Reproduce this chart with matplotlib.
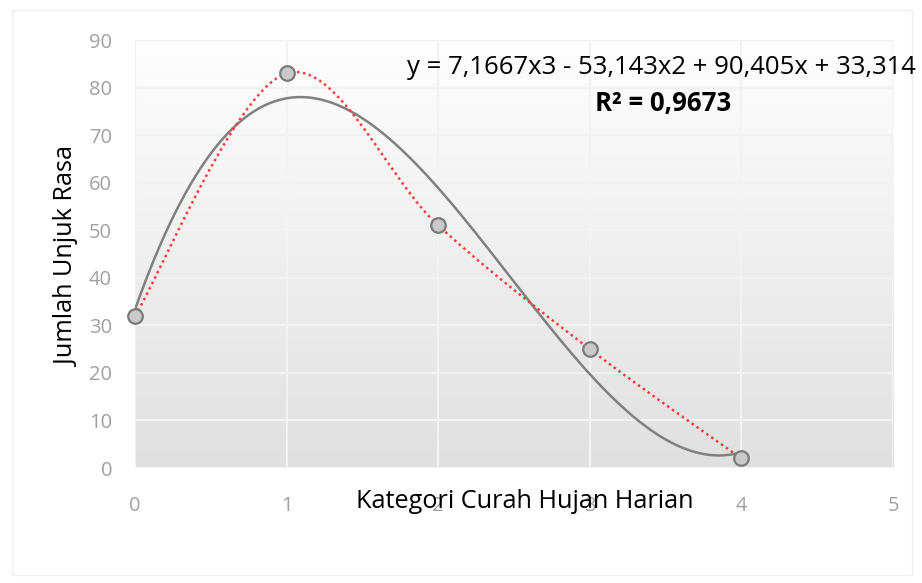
import matplotlib
matplotlib.use("Agg")
import matplotlib.pyplot as plt
import numpy as np
from matplotlib.patches import Rectangle

# observed counts per rainfall category
kategori = [0, 1, 2, 3, 4]
unjuk_rasa = [32, 83, 51, 25, 2]

# cubic trendline coefficients (highest power first) and fit quality
poly_coef = [7.1667, -53.143, 90.405, 33.314]
r_squared = "0,9673"

x_ticks = [0, 1, 2, 3, 4, 5]
y_ticks = [0, 10, 20, 30, 40, 50, 60, 70, 80, 90]

FONT = ["Open Sans", "DejaVu Sans"]
plt.rcParams["font.family"] = FONT


def smooth_line(xs, ys, n=40):
    """Catmull-Rom style bezier through the points (spreadsheet 'smoothed line')."""
    xs = np.asarray(xs, float); ys = np.asarray(ys, float)
    px = np.concatenate([[xs[0]], xs, [xs[-1]]])
    py = np.concatenate([[ys[0]], ys, [ys[-1]]])
    out_x, out_y = [], []
    t = np.linspace(0, 1, n)
    for i in range(1, len(px) - 2):
        p0 = np.array([px[i], py[i]]); p3 = np.array([px[i + 1], py[i + 1]])
        c1 = p0 + (np.array([px[i + 1], py[i + 1]]) - np.array([px[i - 1], py[i - 1]])) / 6
        c2 = p3 - (np.array([px[i + 2], py[i + 2]]) - np.array([px[i], py[i]])) / 6
        b = ((1 - t) ** 3)[:, None] * p0 + (3 * (1 - t) ** 2 * t)[:, None] * c1 \
            + (3 * (1 - t) * t ** 2)[:, None] * c2 + (t ** 3)[:, None] * p3
        out_x.extend(b[:, 0]); out_y.extend(b[:, 1])
    return np.array(out_x), np.array(out_y)


fig = plt.figure(figsize=(9.22, 5.83), dpi=100)
fig.patch.set_facecolor("white")
fig.patches.append(Rectangle((12 / 922, 8 / 583), 900 / 922, 565 / 583,
                             transform=fig.transFigure, fill=False,
                             edgecolor="#efefef", lw=1.0))

ax = fig.add_axes([135 / 922, 1 - 468 / 583, 758 / 922, 428 / 583])

# vertical gradient fill of the plot area
grad = np.linspace(1, 0, 256)[:, None]
ax.imshow(grad, aspect="auto", extent=(0, 1, 0, 1), transform=ax.transAxes,
          cmap=matplotlib.colors.LinearSegmentedColormap.from_list("bg", ["#e0e0e0", "#fefefe"]),
          zorder=0)

ax.set_xlim(0, 5); ax.set_ylim(0, 90)
ax.set_xticks(x_ticks); ax.set_yticks(y_ticks)
ax.grid(True, color="#f2f2f2", lw=1.5, zorder=1)
ax.set_axisbelow(True)
for s in ax.spines.values():
    s.set_visible(False)
ax.tick_params(length=0, labelsize=14.5, labelcolor="#a0a0a0")
ax.tick_params(axis="y", pad=16.5)
ax.tick_params(axis="x", pad=20)

# polynomial trendline
xt = np.linspace(0, 4, 300)
ax.plot(xt, np.polyval(poly_coef, xt), color="#808080", lw=1.8, zorder=3)

# smoothed dotted series line
sx, sy = smooth_line(kategori, unjuk_rasa)
ax.plot(sx, sy, color="#ff3b3b", lw=1.8, ls=(0, (1, 1.4)), zorder=4)

ax.plot(kategori, unjuk_rasa, ls="none", marker="o", ms=10.5,
        markerfacecolor="#c9c9c9", markeredgecolor="#7a7a7a", markeredgewidth=1.6,
        zorder=5, clip_on=False)

fig.text(525 / 922, 1 - 502 / 583, "Kategori Curah Hujan Harian", ha="center", va="center",
         fontsize=18.2, color="black")
fig.text(68 / 922, 1 - 256 / 583, "Jumlah Unjuk Rasa", ha="center", va="center",
         rotation=90, fontsize=18.2, color="black")

eq = "y = {:.4f}x3 - {:.3f}x2 + {:.3f}x + {:.3f}".format(
    poly_coef[0], -poly_coef[1], poly_coef[2], poly_coef[3]).replace(".", ",")
fig.text(916 / 922, 1 - 68 / 583, eq, ha="right", va="center", fontsize=18.5, color="black")
fig.text(663 / 922, 1 - 104 / 583, "R² = " + r_squared, ha="center", va="center",
         fontsize=18.5, fontweight="bold", color="black")

fig.savefig("out.png", dpi=100)
